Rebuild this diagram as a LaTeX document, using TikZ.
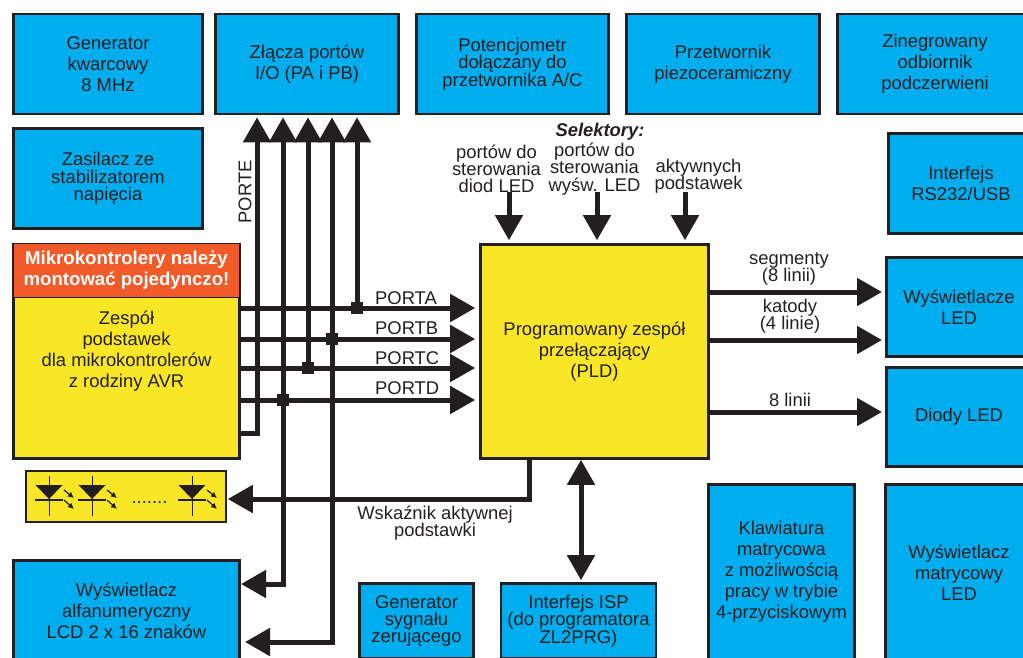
\documentclass[tikz,border=0pt]{standalone}
\usepackage{fontspec}
\setmainfont{Liberation Sans}
\usetikzlibrary{arrows.meta}
\definecolor{ink}{HTML}{231F20}
\definecolor{niebieski}{HTML}{00AEEF}
\definecolor{zolty}{HTML}{F9E727}
\definecolor{czerwony}{HTML}{F15A29}
\tikzset{
  blok/.style={draw=ink,line width=2.6pt,fill=niebieski,text=ink,align=center,inner sep=0pt,
    font=\fontsize{18.4}{21}\selectfont},
  ciasny/.style={font=\fontsize{18.4}{17.3}\selectfont},
  zolty/.style={blok,fill=zolty},
  opis/.style={text=ink,align=center,inner sep=0pt,font=\fontsize{18.4}{17.3}\selectfont},
  linia/.style={draw=ink,line width=5pt},
  szyna/.style={linia,-{Triangle[length=25pt,width=27pt]}},
  wezel/.style={fill=ink,inner sep=0pt,minimum size=12pt},
}
\begin{document}
\begin{tikzpicture}[x=1pt,y=-1pt]
\useasboundingbox (0,0) rectangle (1023,657);
% gorny rzad
\node[blok,minimum width=189pt,minimum height=100pt] (generator) at (108,64) {Generator\\kwarcowy\\8 MHz};
\node[blok,minimum width=183pt,minimum height=100pt] (zlacza) at (307,64) {Złącza portów\\I/O (PA i PB)};
\node[blok,ciasny,minimum width=192pt,minimum height=100pt] (potencjometr) at (512.5,64) {Potencjometr\\dołączany do\\przetwornika A/C};
\node[blok,minimum width=193pt,minimum height=100pt] (przetwornik) at (723,64) {Przetwornik\\piezoceramiczny};
\node[blok,minimum width=195pt,minimum height=100pt] (odbiornik) at (935,64) {Zinegrowany\\odbiornik\\podczerwieni};
% lewa strona
\node[blok,ciasny,minimum width=189pt,minimum height=100pt] (zasilacz) at (108,178.5) {Zasilacz ze\\stabilizatorem\\napięcia};
\node[zolty,minimum width=226pt,minimum height=214pt] (mikro) at (126.5,351.5) {Zespół\\podstawek\\dla mikrokontrolerów\\z rodziny AVR};
\node[blok,fill=czerwony,line width=1pt,text=white,minimum width=226pt,minimum height=54pt,
  font=\fontsize{18.6}{21}\bfseries\selectfont] (uwaga) at (126.5,270.5) {Mikrokontrolery należy\\montować pojedynczo!};
\node[zolty,line width=1.5pt,minimum width=200pt,minimum height=51pt] (diody) at (126,496.5) {};
\node[blok,minimum width=226pt,minimum height=101pt] (lcd) at (126.5,611) {Wyświetlacz\\alfanumeryczny\\LCD 2 x 16 znaków};
% dol
\node[blok,ciasny,minimum width=114pt,minimum height=75pt] (reset) at (416.5,621) {Generator\\sygnału\\zerującego};
\node[blok,ciasny,minimum width=155pt,minimum height=75pt] (isp) at (578.5,621) {Interfejs ISP\\(do programatora\\ZL2PRG)};
\node[blok,minimum width=146pt,minimum height=175pt] (klawiatura) at (781.5,572) {Klawiatura\\matrycowa\\z możliwością\\pracy w trybie\\4-przyciskowym};
\node[blok,minimum width=147pt,minimum height=177pt] (matryca) at (959,573) {Wyświetlacz\\matrycowy\\LED};
% prawa strona
\node[blok,minimum width=145pt,minimum height=100pt] (rs) at (961,183.5) {Interfejs\\RS232/USB};
\node[blok,minimum width=145pt,minimum height=99pt] (wyswietlacze) at (959,307) {Wyświetlacze\\LED};
\node[blok,minimum width=145pt,minimum height=99pt] (ledy) at (959,417) {Diody LED};
\node[zolty,minimum width=228pt,minimum height=214pt] (pld) at (594.5,351.5) {Programowany zespół\\przełączający\\(PLD)};
% porty
\node[wezel] (wa) at (357,308) {};
\node[wezel] (wb) at (332,339) {};
\node[wezel] (wc) at (308,368) {};
\node[wezel] (wd) at (283,400) {};
\coordinate (we) at (257,433);
\coordinate (kd) at (241,584);
\coordinate (kb) at (241,642);
\draw[szyna,shorten >=4pt] (mikro.east |- wa) -- (pld.west |- wa);
\draw[szyna,shorten >=4pt] (mikro.east |- wb) -- (pld.west |- wb);
\draw[szyna,shorten >=4pt] (mikro.east |- wc) -- (pld.west |- wc);
\draw[szyna,shorten >=4pt] (mikro.east |- wd) -- (pld.west |- wd);
\draw[szyna,shorten >=2pt] (wa) -- (wa |- zlacza.south);
\draw[szyna,shorten >=2pt] (wb) -- (wb |- zlacza.south);
\draw[szyna,shorten >=2pt] (wc) -- (wc |- zlacza.south);
\draw[szyna,shorten >=2pt] (wd) -- (wd |- zlacza.south);
\draw[szyna,shorten >=2pt] (mikro.east |- we) -| (we |- zlacza.south);
\draw[szyna] (wd) |- (kd);
\draw[szyna,shorten >=4pt] (wb) |- (kb);
\node[opis,rotate=90] (porte) at (245,192) {PORTE};
\node[opis,anchor=west] (lporta) at (375,298) {PORTA};
\node[opis,anchor=west] (lportb) at (375,328) {PORTB};
\node[opis,anchor=west] (lportc) at (375,358) {PORTC};
\node[opis,anchor=west] (lportd) at (375,388) {PORTD};
% selektory
\coordinate (sa) at (509,192);
\coordinate (sb) at (597,192);
\coordinate (sc) at (685,192);
\draw[szyna,shorten >=3pt] (sa) -- (sa |- pld.north);
\draw[szyna,shorten >=3pt] (sb) -- (sb |- pld.north);
\draw[szyna,shorten >=3pt] (sc) -- (sc |- pld.north);
\node[opis,font=\fontsize{18.4}{17}\bfseries\itshape\selectfont] (selektory) at (600,132) {Selektory:};
\node[opis] (sdiod) at (496.5,169) {portów do\\sterowania\\diod LED};
\node[opis] (swys) at (594.5,169) {portów do\\sterowania\\wyśw. LED};
\node[opis] (spod) at (698.5,176) {aktywnych\\podstawek};
% wyjscia
\coordinate (oa) at (885,292);
\coordinate (ob) at (885,340);
\coordinate (oc) at (885,412);
\draw[szyna,shorten >=3pt] (pld.east |- oa) -- (oa);
\draw[szyna,shorten >=3pt] (pld.east |- ob) -- (ob);
\draw[szyna,shorten >=3pt] (pld.east |- oc) -- (oc);
\node[opis] (lseg) at (789,269) {segmenty\\(8 linii)};
\node[opis] (lkat) at (790,316) {katody\\(4 linie)};
\node[opis] (losm) at (790,400) {8 linii};
% wskaznik i ISP
\coordinate (ws) at (529,499);
\coordinate (pi) at (581,520);
\draw[szyna,shorten >=1pt] (pld.south -| ws) |- (diody.east |- ws);
\draw[linia,{Triangle[length=25pt,width=27pt]}-{Triangle[length=25pt,width=27pt]},shorten >=2pt] (pld.south -| pi) -- (isp.north -| pi);
\node[opis] (lwsk) at (435,523) {Wskaźnik aktywnej\\podstawki};
% diody na pasku
\foreach \x in {49,92,192} {
  \fill[ink] (\x-13.5,485) -- (\x+13.5,485) -- (\x,499) -- cycle;
  \draw[ink,line width=2pt] (\x-14,499.5) -- (\x+14,499.5);
  \draw[ink,line width=1pt] (\x,476) -- (\x,516);
  \draw[ink,line width=1.2pt,-{Latex[length=6pt,width=6pt]}] (\x+15,490) -- (\x+25,498);
  \draw[ink,line width=1.2pt,-{Latex[length=6pt,width=6pt]}] (\x+15,500) -- (\x+25,509);
}
\node[opis,anchor=base] (kropki) at (149.5,503) {.......};
\end{tikzpicture}
\end{document}
